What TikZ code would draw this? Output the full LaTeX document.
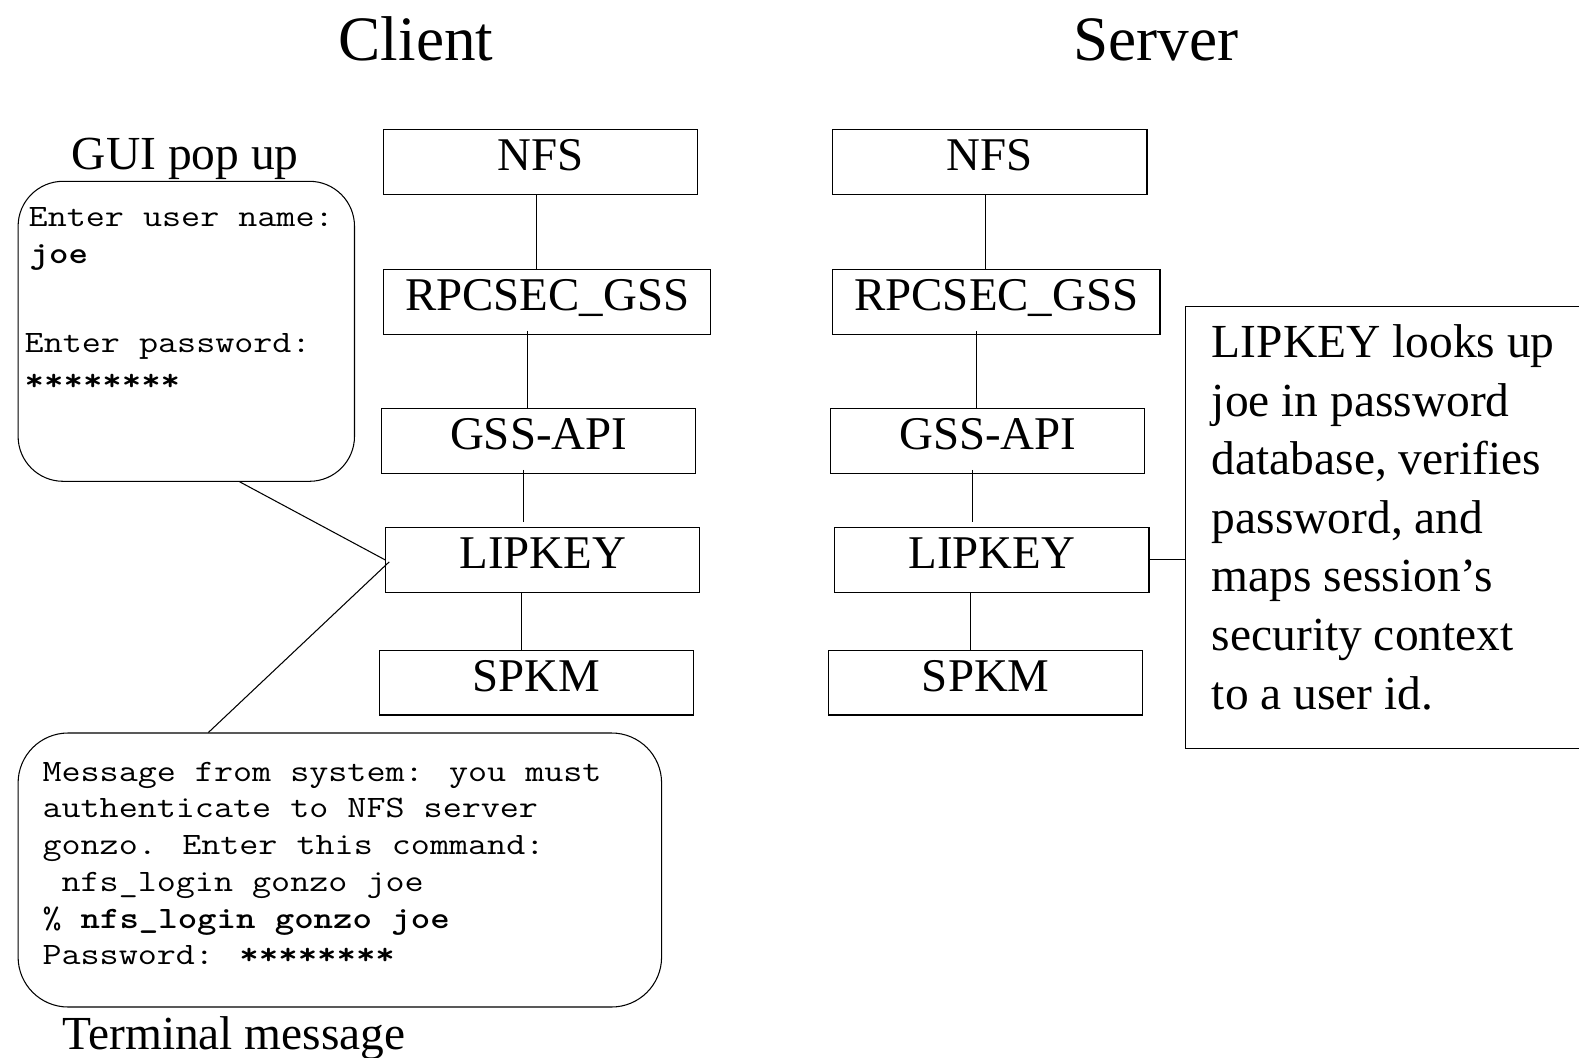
\documentclass[tikz,border=0pt]{standalone}
\usepackage{fontspec}
\setmainfont{Liberation Serif}
\usetikzlibrary{calc}
\newcommand\mtx[1]{\scalebox{1.19}[1]{#1}}
\begin{document}
\begin{tikzpicture}[x=0.02cm,y=-0.02cm,line width=0.6pt,
  box/.style={draw, inner sep=0pt, minimum height=64.5*0.02cm,
    text height=23.1pt, text depth=13.5pt, font=\fontsize{26.7}{32}\selectfont},
  titletext/.style={anchor=base, inner sep=0pt, font=\fontsize{36}{42}\selectfont},
  caplabel/.style={anchor=base, inner sep=0pt, font=\fontsize{27}{32}\selectfont},
  notetext/.style={anchor=base west, inner sep=0pt, font=\fontsize{27}{32}\selectfont},
  mtext/.style={anchor=base west, inner sep=0pt, font=\ttfamily\fontsize{17.7}{21}\selectfont},
  rbox/.style={draw, inner sep=0pt}]
\useasboundingbox (0,0) rectangle (1579,1058);

% titles
\node[titletext] (tclient) at (416,60.4) {Client};
\node[titletext] (tserver) at (1156,60.4) {Server};

% client stack
\node[box, minimum width=314.2*0.02cm] (cnfs) at (540.8,162.15) {NFS};
\node[box, minimum width=327.2*0.02cm] (crpc) at (547.3,302.1) {RPCSEC\_GSS};
\node[box, minimum width=314.1*0.02cm] (cgss) at (538.75,441.05) {GSS-API};
\node[box, minimum width=314.2*0.02cm] (clip) at (542.8,559.9) {LIPKEY};
\node[box, minimum width=314.2*0.02cm] (cspkm) at (536.7,682.75) {SPKM};

% server stack
\node[box, minimum width=314.2*0.02cm] (snfs) at (989.9,162.15) {NFS};
\node[box, minimum width=327.2*0.02cm] (srpc) at (996.4,302.1) {RPCSEC\_GSS};
\node[box, minimum width=314.1*0.02cm] (sgss) at (987.85,441.05) {GSS-API};
\node[box, minimum width=314.2*0.02cm] (slip) at (991.9,559.9) {LIPKEY};
\node[box, minimum width=314.2*0.02cm] (sspkm) at (985.8,682.75) {SPKM};

% client connectors
\draw (cnfs.south -| 536.7,0) -- (crpc.north -| 536.7,0);
\draw[shorten <=-2.3pt] (crpc.south -| 527.7,0) -- (cgss.north -| 527.7,0);
\draw[shorten <=-2.3pt, shorten >=2.8pt] (cgss.south -| 523.6,0) -- (clip.north -| 523.6,0);
\draw (clip.south -| 521.6,0) -- (cspkm.north -| 521.6,0);

% server connectors
\draw (snfs.south -| 985.9,0) -- (srpc.north -| 985.9,0);
\draw[shorten <=-2.3pt] (srpc.south -| 976.8,0) -- (sgss.north -| 976.8,0);
\draw[shorten <=-2.3pt, shorten >=2.8pt] (sgss.south -| 972.8,0) -- (slip.north -| 972.8,0);
\draw (slip.south -| 970.8,0) -- (sspkm.north -| 970.8,0);

% GUI pop up
\node[caplabel] (guilabel) at (185.3,169) {GUI pop up};
\node[rbox, rounded corners=0.9cm, minimum width=336.4*0.02cm, minimum height=300*0.02cm] (gui) at (186.3,331.3) {};
\node[mtext] (g1) at (28.2,226.6) {\mtx{Enter user name:}};
\node[mtext] (g2) at (29.2,263.8) {\mtx{\bfseries joe}};
\node[mtext] (g3) at (24.2,352.5) {\mtx{Enter password:}};
\node[mtext] (g4) at (24.2,390) {\mtx{\bfseries ********}};

% terminal
\node[rbox, rounded corners=1cm, minimum width=643.5*0.02cm, minimum height=274*0.02cm] (term) at (339.85,870) {};
\node[mtext] (t1) at (42,781.4) {\mtx{Message from system: you must}};
\node[mtext] (t2) at (42,817.7) {\mtx{authenticate to NFS server}};
\node[mtext] (t3) at (42,854) {\mtx{gonzo. Enter this command:}};
\node[mtext] (t4) at (42,891.2) {\mtx{\phantom{n}nfs\_login gonzo joe}};
\node[mtext] (t5) at (42,928.5) {\mtx{\% \textbf{nfs\_login gonzo joe}}};
\node[mtext] (t6) at (42,964.7) {\mtx{Password: \textbf{********}}};
\node[caplabel] (termlabel) at (234.1,1049) {Terminal message};

% links from client LIPKEY
\draw (gui.south -| 239.7,0) -- (clip.west);
\draw ($(clip.west)+(4,2)$) -- (term.north -| 208.4,0);

% note box (open on the right, cut by the page edge)
\node[inner sep=0pt, minimum width=393*0.02cm, minimum height=441*0.02cm] (note) at (1382.5,527.5) {};
\draw (note.north east) -- (note.north west) -- (note.south west) -- (note.south east);
\draw (slip.east) -- (slip.east -| note.west);
\node[notetext] (n1) at (1211.4,357.5) {LIPKEY looks up};
\node[notetext] (n2) at (1211.4,416) {joe in password};
\node[notetext] (n3) at (1211.4,474.5) {database, verifies};
\node[notetext] (n4) at (1211.4,533.2) {password, and};
\node[notetext] (n5) at (1211.4,591.8) {maps session’s};
\node[notetext] (n6) at (1211.4,650.4) {security context};
\node[notetext] (n7) at (1211.4,709) {to a user id.};
\end{tikzpicture}
\end{document}
